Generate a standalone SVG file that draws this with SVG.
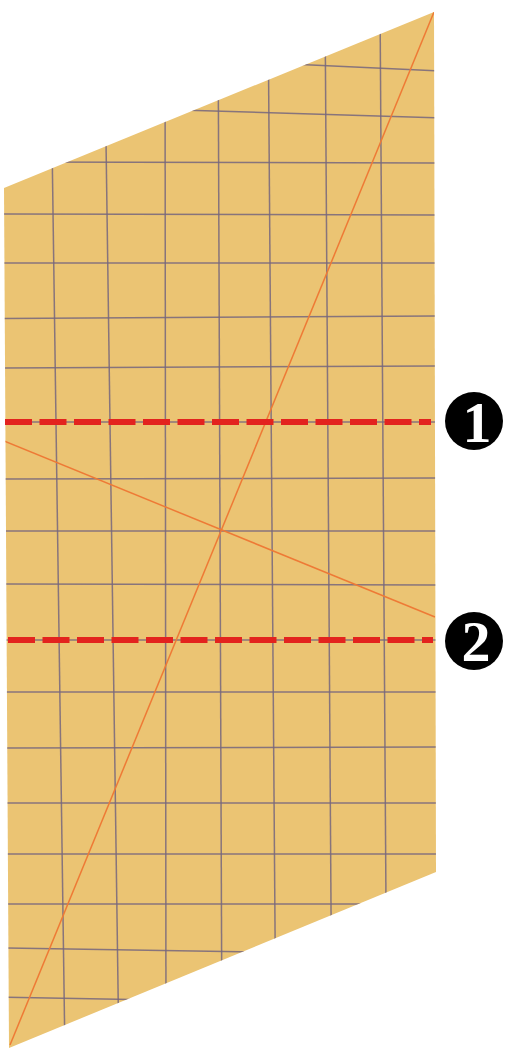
<svg xmlns="http://www.w3.org/2000/svg" width="506" height="1056" viewBox="0 0 506 1056">
  <defs>
    <clipPath id="paper">
      <polygon points="4,188 434,12 436,872 9,1048"/>
    </clipPath>
  </defs>
  <style>
    .paper { fill: #EBC473; }
    .grid line { stroke: #76667E; stroke-width: 1.5; stroke-opacity: 0.85; }
    .crease { stroke: #EE7A36; stroke-width: 1.5; fill: none; }
    .fold { stroke: #E3231E; stroke-width: 6; stroke-dasharray: 27 7.5; fill: none; }
    .badge circle { fill: #000; }
    .badge text { fill: #fff; font-family: "Liberation Serif", "DejaVu Serif", serif; font-weight: bold; font-size: 58px; text-anchor: middle; }
  </style>
  <rect width="506" height="1056" fill="#fff"/>
  <g id="sheet">
    <polygon class="paper" points="4,188 434,12 436,872 9,1048"/>
    <g class="grid" clip-path="url(#paper)">
      <line x1="50" y1="0" x2="65" y2="1056"/>
      <line x1="104" y1="0" x2="119" y2="1056"/>
      <line x1="165" y1="0" x2="166" y2="1056"/>
      <line x1="218" y1="0" x2="222" y2="1056"/>
      <line x1="268" y1="0" x2="276" y2="1056"/>
      <line x1="325" y1="0" x2="332" y2="1056"/>
      <line x1="380" y1="0" x2="387" y2="1056"/>
      <line x1="290" y1="64" x2="440" y2="71"/>
      <line x1="180" y1="110" x2="440" y2="118"/>
      <line x1="0" y1="162" x2="440" y2="163"/>
      <line x1="0" y1="214" x2="440" y2="215"/>
      <line x1="0" y1="263" x2="440" y2="263"/>
      <line x1="0" y1="318.5" x2="440" y2="316"/>
      <line x1="0" y1="368" x2="440" y2="366"/>
      <line x1="0" y1="422" x2="440" y2="422"/>
      <line x1="0" y1="479" x2="440" y2="478"/>
      <line x1="0" y1="531" x2="440" y2="531"/>
      <line x1="0" y1="584" x2="440" y2="585"/>
      <line x1="0" y1="640" x2="440" y2="640"/>
      <line x1="0" y1="692" x2="440" y2="692"/>
      <line x1="0" y1="748" x2="440" y2="747"/>
      <line x1="0" y1="803" x2="440" y2="803"/>
      <line x1="0" y1="854" x2="440" y2="854"/>
      <line x1="0" y1="904" x2="440" y2="904"/>
      <line x1="0" y1="948" x2="440" y2="955"/>
      <line x1="0" y1="997" x2="440" y2="1005"/>
    </g>
    <g id="creases" clip-path="url(#paper)">
      <line class="crease" x1="434" y1="12" x2="10" y2="1045"/>
      <line class="crease" x1="4" y1="441" x2="435" y2="617"/>
    </g>
  </g>
  <g id="folds">
    <line id="fold-1" class="fold" x1="5" y1="422" x2="431" y2="422"/>
    <line id="fold-2" class="fold" x1="8" y1="640" x2="433" y2="640"/>
  </g>
  <g id="badge-1" class="badge">
    <circle cx="474" cy="421" r="29"/>
    <text x="477" y="442">1</text>
  </g>
  <g id="badge-2" class="badge">
    <circle cx="474" cy="641" r="29"/>
    <text x="476" y="661">2</text>
  </g>
</svg>
